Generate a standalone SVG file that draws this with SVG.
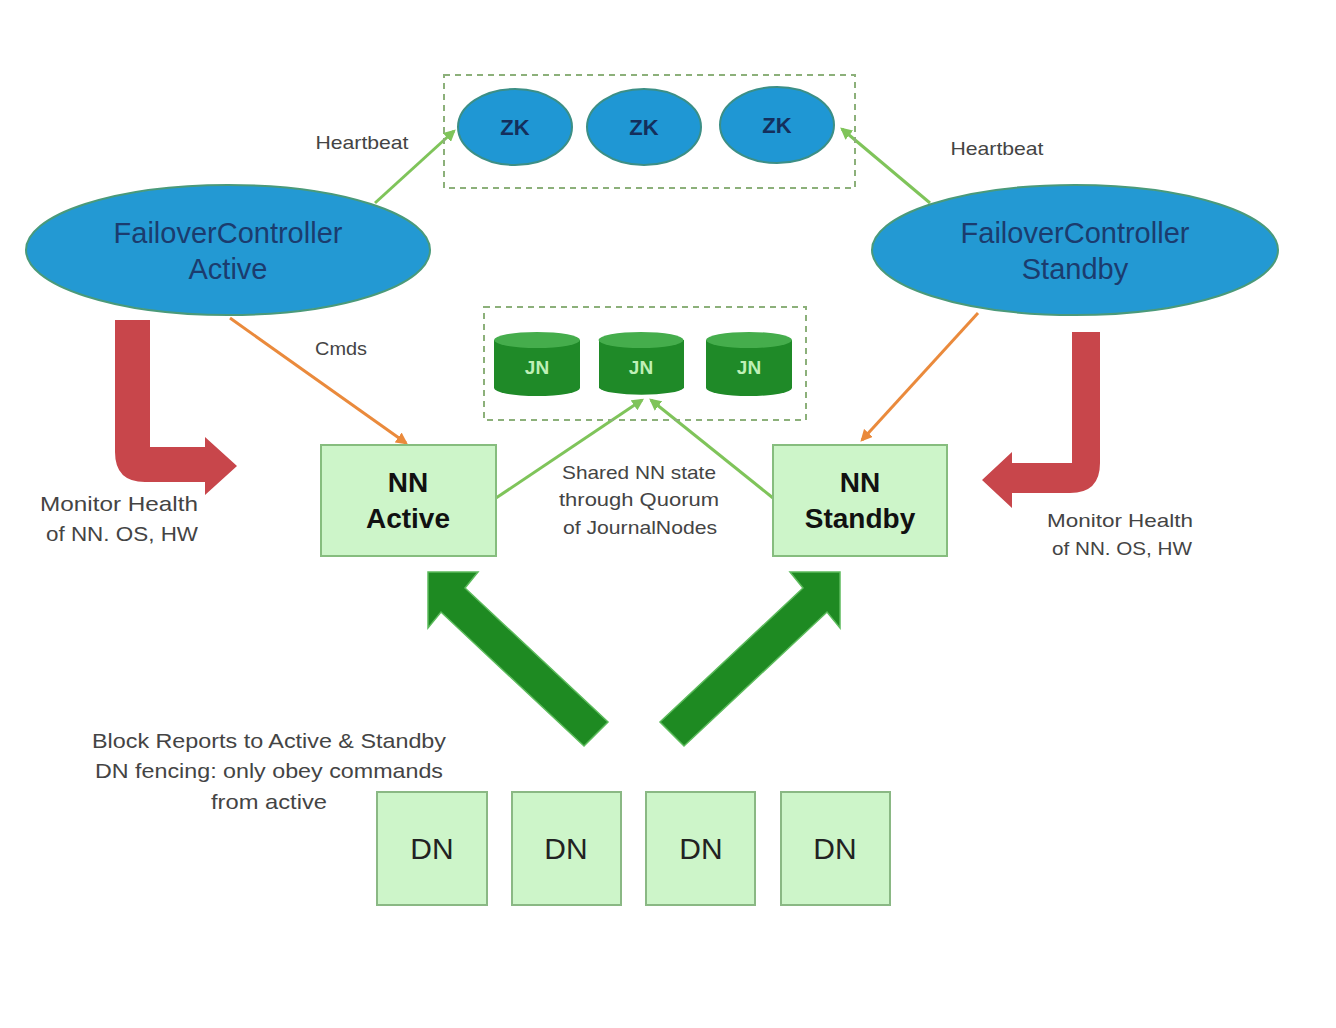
<svg xmlns="http://www.w3.org/2000/svg" width="1336" height="1028" viewBox="0 0 1336 1028">
<defs>
<style>
.fc{fill:#2399d3;stroke:#4a9a7a;stroke-width:2}
.fct{font-family:"Liberation Sans",Arial,sans-serif;font-size:29px;fill:#1b3c6e;text-anchor:middle}
.zk{fill:#1f97d4;stroke:#3c8f86;stroke-width:2}
.zkt{font-family:"Liberation Sans",Arial,sans-serif;font-size:22px;font-weight:bold;fill:#142f5c;text-anchor:middle}
.dash{fill:none;stroke:#8cb07a;stroke-width:2;stroke-dasharray:6 5}
.nn{fill:#cdf5c9;stroke:#86bd7e;stroke-width:2}
.nnt{font-family:"Liberation Sans",Arial,sans-serif;font-size:28px;font-weight:bold;fill:#111;text-anchor:middle}
.dn{fill:#cdf5c9;stroke:#8ab884;stroke-width:2}
.dnt{font-family:"Liberation Sans",Arial,sans-serif;font-size:30px;fill:#222;text-anchor:middle}
.lbl{font-family:"Liberation Sans",Arial,sans-serif;font-size:19px;fill:#444;text-anchor:middle}
.lbl2{font-family:"Liberation Sans",Arial,sans-serif;font-size:21px;fill:#444;text-anchor:middle}
.jnb{fill:#1f8a28}
.jntop{fill:#45ad4c}
.jnt{font-family:"Liberation Sans",Arial,sans-serif;font-size:19px;font-weight:bold;fill:#bff0b6;text-anchor:middle}
.gl{stroke:#7fc45a;stroke-width:3;fill:none}
.ol{stroke:#ea8a3c;stroke-width:3;fill:none}
.red{fill:#c8464b}
.big{fill:#1e8a22;stroke:#5cbb5c;stroke-width:1.5}
</style>
<marker id="ag" viewBox="0 0 10 10" refX="8" refY="5" markerWidth="4" markerHeight="4" orient="auto"><path d="M0,0 L10,5 L0,10 Z" fill="#7fc45a"/></marker>
<marker id="ao" viewBox="0 0 10 10" refX="8" refY="5" markerWidth="4" markerHeight="4" orient="auto"><path d="M0,0 L10,5 L0,10 Z" fill="#ea8a3c"/></marker>
</defs>
<rect x="0" y="0" width="1336" height="1028" fill="#ffffff"/>

<g id="connectors">
<line class="gl" x1="375" y1="203" x2="454" y2="131" marker-end="url(#ag)"/>
<line class="gl" x1="930" y1="203" x2="842" y2="129" marker-end="url(#ag)"/>
<line class="ol" x1="230" y1="318" x2="406" y2="443" marker-end="url(#ao)"/>
<line class="ol" x1="978" y1="313" x2="862" y2="440" marker-end="url(#ao)"/>
<line class="gl" x1="496" y1="498" x2="642" y2="400" marker-end="url(#ag)"/>
<line class="gl" x1="773" y1="498" x2="651" y2="400" marker-end="url(#ag)"/>
<path class="red" d="M115,320 L150,320 L150,447 L205,447 L205,437 L237,466 L205,495 L205,482 L145,482 Q115,482 115,452 Z"/>
<path class="red" d="M1072,332 L1100,332 L1100,463 Q1100,493 1070,493 L1012,493 L1012,508 L982,480 L1012,452 L1012,463 L1072,463 Z"/>
<polygon class="big" points="428,572 478,572 465,588 608,722 584,746 441,612 428,628"/>
<polygon class="big" points="840,572 790,572 803,588 660,722 684,746 827,612 840,628"/>
</g>

<g id="zk-group">
<rect class="dash" x="444" y="75" width="411" height="113"/>
</g>
<g id="zk1"><ellipse class="zk" cx="515" cy="127" rx="57" ry="38"/><text class="zkt" x="515" y="135">ZK</text></g>
<g id="zk2"><ellipse class="zk" cx="644" cy="127" rx="57" ry="38"/><text class="zkt" x="644" y="135">ZK</text></g>
<g id="zk3"><ellipse class="zk" cx="777" cy="125" rx="57" ry="38"/><text class="zkt" x="777" y="133">ZK</text></g>

<g id="fc-active"><ellipse class="fc" cx="228" cy="250" rx="202" ry="65"/><text class="fct" x="228" y="243">FailoverController</text><text class="fct" x="228" y="279">Active</text></g>
<g id="fc-standby"><ellipse class="fc" cx="1075" cy="250" rx="203" ry="65"/><text class="fct" x="1075" y="243">FailoverController</text><text class="fct" x="1075" y="279">Standby</text></g>

<g id="jn-group"><rect class="dash" x="484" y="307" width="322" height="113"/></g>
<g id="jn1"><path class="jnb" d="M494,340 L494,388 A43,8 0 0 0 580,388 L580,340 Z"/><ellipse class="jntop" cx="537" cy="340" rx="43" ry="8"/><text class="jnt" x="537" y="374">JN</text></g>
<g id="jn2"><path class="jnb" d="M599,340 L599,388 A43,8 0 0 0 684,388 L684,340 Z"/><ellipse class="jntop" cx="641" cy="340" rx="42.5" ry="8"/><text class="jnt" x="641" y="374">JN</text></g>
<g id="jn3"><path class="jnb" d="M706,340 L706,388 A43,8 0 0 0 792,388 L792,340 Z"/><ellipse class="jntop" cx="749" cy="340" rx="43" ry="8"/><text class="jnt" x="749" y="374">JN</text></g>

<g id="nn-active"><rect class="nn" x="321" y="445" width="175" height="111"/><text class="nnt" x="408" y="492">NN</text><text class="nnt" x="408" y="528">Active</text></g>
<g id="nn-standby"><rect class="nn" x="773" y="445" width="174" height="111"/><text class="nnt" x="860" y="492">NN</text><text class="nnt" x="860" y="528">Standby</text></g>

<g id="dn1"><rect class="dn" x="377" y="792" width="110" height="113"/><text class="dnt" x="432" y="859">DN</text></g>
<g id="dn2"><rect class="dn" x="512" y="792" width="109" height="113"/><text class="dnt" x="566" y="859">DN</text></g>
<g id="dn3"><rect class="dn" x="646" y="792" width="109" height="113"/><text class="dnt" x="701" y="859">DN</text></g>
<g id="dn4"><rect class="dn" x="781" y="792" width="109" height="113"/><text class="dnt" x="835" y="859">DN</text></g>

<g id="labels">
<text class="lbl" x="362" y="149" textLength="93" lengthAdjust="spacingAndGlyphs">Heartbeat</text>
<text class="lbl" x="997" y="155" textLength="93" lengthAdjust="spacingAndGlyphs">Heartbeat</text>
<text class="lbl" x="341" y="355" textLength="52" lengthAdjust="spacingAndGlyphs">Cmds</text>
<text class="lbl" x="639" y="479" textLength="154" lengthAdjust="spacingAndGlyphs">Shared NN state</text>
<text class="lbl" x="639" y="506" textLength="160" lengthAdjust="spacingAndGlyphs">through Quorum</text>
<text class="lbl" x="640" y="534" textLength="154" lengthAdjust="spacingAndGlyphs">of JournalNodes</text>
<text class="lbl2" x="119" y="511" textLength="158" lengthAdjust="spacingAndGlyphs">Monitor Health</text>
<text class="lbl2" x="122" y="541" textLength="152" lengthAdjust="spacingAndGlyphs">of NN. OS, HW</text>
<text class="lbl" x="1120" y="527" textLength="146" lengthAdjust="spacingAndGlyphs">Monitor Health</text>
<text class="lbl" x="1122" y="555" textLength="140" lengthAdjust="spacingAndGlyphs">of NN. OS, HW</text>
<text class="lbl2" x="269" y="748" textLength="354" lengthAdjust="spacingAndGlyphs">Block Reports to Active &amp; Standby</text>
<text class="lbl2" x="269" y="778" textLength="348" lengthAdjust="spacingAndGlyphs">DN fencing: only obey commands</text>
<text class="lbl2" x="269" y="809" textLength="116" lengthAdjust="spacingAndGlyphs">from active</text>
</g>
</svg>
